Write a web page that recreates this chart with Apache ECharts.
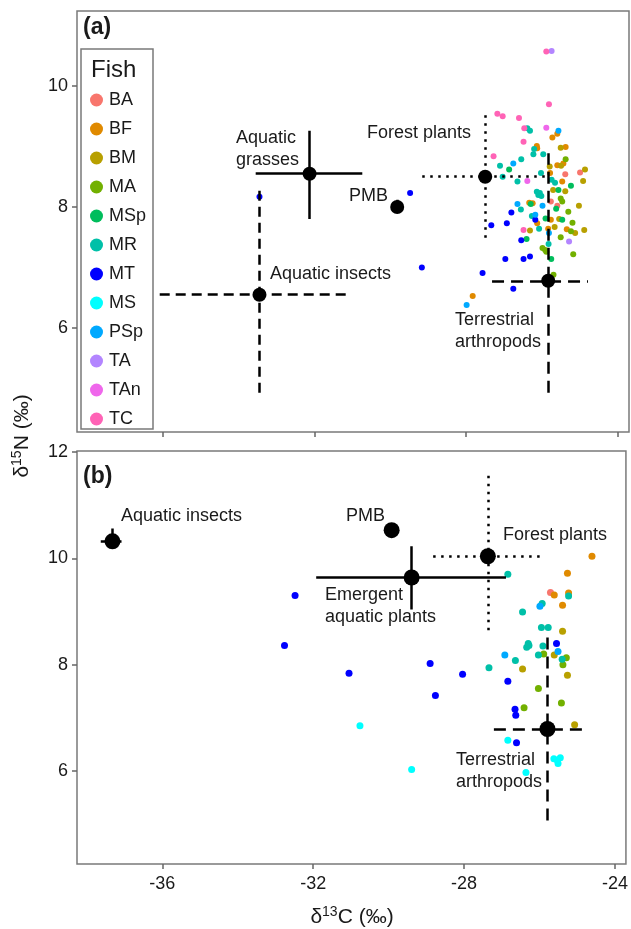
<!DOCTYPE html>
<html>
<head>
<meta charset="utf-8">
<title>d13C d15N biplot</title>
<script src="https://cdn.jsdelivr.net/npm/echarts@6.0.0/dist/echarts.min.js"></script>
<style>
    html, body { margin: 0; padding: 0; background: #fff; }
    #main { width: 631px; height: 929px; }
</style>
</head>
<body>
<div id="main"></div>
<script>
var fishGroups = ['BA', 'BF', 'BM', 'MA', 'MSp', 'MR', 'MT', 'MS', 'PSp', 'TA', 'TAn', 'TC'];
var fishColors = ['#F8766D', '#E08A00', '#B8A000', '#72B000', '#00BD5C', '#00C0A8', '#0000FF', '#00FFFF', '#00A9FF', '#B385FF', '#EF67EB', '#FF63B6'];

var xTicks = [-36, -32, -28, -24];
var yTicksA = [6, 8, 10];
var yTicksB = [6, 8, 10, 12];

// panel (a) fish: [d13C, d15N, group]
var pointsA = [
    [-25.39, 8.54, 'BA'], [-25.00, 8.57, 'BA'], [-25.77, 8.09, 'BA'], [-25.60, 8.02, 'BA'],
    [-25.60, 9.21, 'BF'], [-25.73, 9.15, 'BF'], [-26.14, 9.01, 'BF'], [-26.13, 8.97, 'BF'], [-25.38, 8.99, 'BF'],
    [-25.60, 8.69, 'BF'], [-25.44, 8.72, 'BF'], [-25.79, 8.56, 'BF'], [-25.47, 8.42, 'BF'], [-26.34, 8.07, 'BF'],
    [-26.25, 8.06, 'BF'], [-26.13, 7.73, 'BF'], [-25.84, 7.64, 'BF'], [-25.77, 7.79, 'BF'], [-25.35, 7.63, 'BF'],
    [-27.83, 6.53, 'BF'],
    [-25.51, 8.98, 'BM'], [-25.80, 8.67, 'BM'], [-25.50, 8.68, 'BM'], [-24.87, 8.62, 'BM'], [-24.92, 8.43, 'BM'],
    [-25.71, 8.28, 'BM'], [-25.39, 8.26, 'BM'], [-25.03, 8.02, 'BM'], [-25.67, 7.67, 'BM'], [-26.32, 7.61, 'BM'],
    [-24.89, 7.62, 'BM'], [-25.13, 7.57, 'BM'], [-25.55, 7.80, 'BM'],
    [-25.38, 8.79, 'MA'], [-25.51, 8.14, 'MA'], [-25.47, 8.09, 'MA'], [-25.31, 7.92, 'MA'], [-25.20, 7.74, 'MA'],
    [-25.24, 7.60, 'MA'], [-25.51, 7.50, 'MA'], [-25.18, 7.22, 'MA'], [-25.99, 7.32, 'MA'], [-25.92, 7.29, 'MA'],
    [-25.89, 7.26, 'MA'], [-25.70, 6.88, 'MA'],
    [-26.87, 8.62, 'MSp'], [-25.57, 8.28, 'MSp'], [-25.24, 8.35, 'MSp'], [-25.47, 7.79, 'MSp'], [-25.91, 7.81, 'MSp'],
    [-26.41, 7.47, 'MSp'], [-25.76, 7.14, 'MSp'], [-26.30, 8.05, 'MSp'], [-25.63, 7.97, 'MSp'],
    [-26.39, 9.30, 'MR'], [-26.32, 9.26, 'MR'], [-26.21, 8.96, 'MR'], [-26.23, 8.87, 'MR'], [-25.97, 8.87, 'MR'],
    [-26.55, 8.79, 'MR'], [-27.11, 8.68, 'MR'], [-27.04, 8.50, 'MR'], [-26.03, 8.56, 'MR'], [-26.65, 8.42, 'MR'],
    [-25.75, 8.45, 'MR'], [-25.66, 8.40, 'MR'], [-26.14, 8.25, 'MR'], [-26.06, 8.23, 'MR'], [-26.02, 8.18, 'MR'],
    [-26.10, 8.20, 'MR'], [-26.56, 7.96, 'MR'], [-26.27, 7.85, 'MR'], [-26.08, 7.64, 'MR'], [-25.83, 7.39, 'MR'],
    [-26.81, 7.91, 'MT'], [-27.34, 7.70, 'MT'], [-26.93, 7.73, 'MT'], [-26.18, 7.79, 'MT'], [-26.55, 7.45, 'MT'],
    [-26.97, 7.14, 'MT'], [-26.49, 7.14, 'MT'], [-26.32, 7.18, 'MT'], [-27.57, 6.91, 'MT'], [-26.76, 6.65, 'MT'],
    [-29.48, 8.23, 'MT'], [-29.17, 7.00, 'MT'], [-33.45, 8.17, 'MT'],
    [-25.57, 9.26, 'PSp'], [-26.76, 8.72, 'PSp'], [-26.65, 8.05, 'PSp'], [-25.99, 8.02, 'PSp'], [-26.18, 7.87, 'PSp'],
    [-25.82, 7.57, 'PSp'], [-27.99, 6.38, 'PSp'],
    [-25.75, 10.58, 'TA'], [-25.29, 7.43, 'TA'],
    [-25.89, 9.31, 'TAn'], [-26.39, 8.43, 'TAn'],
    [-25.89, 10.57, 'TC'], [-25.82, 9.70, 'TC'], [-27.18, 9.54, 'TC'], [-27.04, 9.50, 'TC'], [-26.61, 9.47, 'TC'],
    [-26.47, 9.30, 'TC'], [-26.49, 9.08, 'TC'], [-27.28, 8.84, 'TC'], [-26.49, 7.62, 'TC']
];

// panel (b) fish
var pointsB = [
    [-25.71, 9.36, 'BA'],
    [-24.61, 10.04, 'BF'], [-25.26, 9.72, 'BF'], [-25.61, 9.31, 'BF'], [-25.23, 9.35, 'BF'], [-25.39, 9.12, 'BF'],
    [-25.39, 8.63, 'BM'], [-25.61, 8.18, 'BM'], [-26.45, 7.92, 'BM'], [-25.26, 7.80, 'BM'], [-25.07, 6.87, 'BM'],
    [-25.89, 8.20, 'MA'], [-25.29, 8.13, 'MA'], [-25.38, 8.00, 'MA'], [-26.03, 7.55, 'MA'], [-25.42, 7.28, 'MA'],
    [-26.41, 7.19, 'MA'],
    [-26.84, 9.70, 'MR'], [-25.23, 9.29, 'MR'], [-25.93, 9.15, 'MR'], [-26.45, 8.99, 'MR'], [-25.95, 8.70, 'MR'],
    [-25.77, 8.70, 'MR'], [-26.30, 8.40, 'MR'], [-26.34, 8.33, 'MR'], [-26.28, 8.36, 'MR'], [-25.91, 8.35, 'MR'],
    [-26.03, 8.18, 'MR'], [-25.40, 8.10, 'MR'], [-26.64, 8.08, 'MR'], [-27.34, 7.94, 'MR'],
    [-25.55, 8.40, 'MT'], [-28.90, 8.02, 'MT'], [-31.05, 7.84, 'MT'], [-28.04, 7.82, 'MT'], [-26.84, 7.69, 'MT'],
    [-28.76, 7.42, 'MT'], [-26.65, 7.16, 'MT'], [-26.63, 7.05, 'MT'], [-26.61, 6.53, 'MT'], [-32.48, 9.30, 'MT'],
    [-32.76, 8.36, 'MT'],
    [-30.76, 6.85, 'MS'], [-26.84, 6.58, 'MS'], [-25.62, 6.23, 'MS'], [-25.53, 6.20, 'MS'], [-25.45, 6.25, 'MS'],
    [-25.51, 6.14, 'MS'], [-26.36, 5.97, 'MS'], [-29.39, 6.03, 'MS'],
    [-25.99, 9.10, 'PSp'], [-25.51, 8.25, 'PSp'], [-26.92, 8.18, 'PSp']
];

// sources: [name, meanX, meanY, xLow, xHigh, yLow, yHigh]
var sourcesA = [
    ['Aquatic grasses', -32.13, 8.55, -33.55, -30.74, 7.80, 9.26],
    ['Aquatic insects', -33.45, 6.55, -36.08, -31.10, 4.93, 8.31],
    ['PMB', -29.82, 8.00, -29.82, -29.82, 7.93, 8.12],
    ['Forest plants', -27.50, 8.50, -29.16, -25.84, 7.49, 9.55],
    ['Terrestrial arthropods', -25.84, 6.78, -27.32, -24.79, 4.93, 8.89]
];
var sourcesB = [
    ['Aquatic insects', -37.32, 10.32, -37.63, -37.08, 10.19, 10.56],
    ['PMB', -29.92, 10.53, -29.92, -29.92, 10.53, 10.53],
    ['Emergent aquatic plants', -29.39, 9.64, -31.92, -26.89, 9.04, 10.23],
    ['Forest plants', -27.37, 10.04, -28.82, -25.95, 8.65, 11.60],
    ['Terrestrial arthropods', -25.79, 6.79, -27.21, -24.87, 5.07, 8.59]
];

var lineTypes = {
    'Aquatic grasses': 'solid',
    'Aquatic insects': [10, 6],
    'PMB': 'solid',
    'Forest plants': [2.5, 5.5],
    'Emergent aquatic plants': 'solid',
    'Terrestrial arthropods': [12, 7]
};
var lineTypesB = { 'Aquatic insects': 'solid' };

var FONT = '"Liberation Sans", Arial, sans-serif';

/*==========================================
 * build the fish scatter series of one panel
 */
function fishSeries(points, gi, size) {
    var out = [];
    for (var i = 0; i < fishGroups.length; i++) {
        var g = fishGroups[i];
        var d = [];
        for (var j = 0; j < points.length; j++) {
            if (points[j][2] == g) d.push([points[j][0], points[j][1]]);
        }
        out.push({
            name: g,
            type: 'scatter',
            xAxisIndex: gi,
            yAxisIndex: gi,
            data: d,
            symbolSize: size,
            itemStyle: { color: fishColors[i], opacity: 1 },
            z: 2,
            silent: true
        });
    }
    return out;
}

/*==========================================
 * error bars + means of food sources
 */
function sourceSeries(sources, gi, size, overrides) {
    var bars = [];
    var means = [];
    for (var i = 0; i < sources.length; i++) {
        var s = sources[i];
        var t = overrides[s[0]] || lineTypes[s[0]];
        if (s[3] != s[4]) bars.push({ coords: [[s[3], s[2]], [s[4], s[2]]], lineStyle: { type: t } });
        if (s[5] != s[6]) bars.push({ coords: [[s[1], s[5]], [s[1], s[6]]], lineStyle: { type: t } });
        means.push([s[1], s[2]]);
    }
    return [{
        type: 'lines',
        coordinateSystem: 'cartesian2d',
        xAxisIndex: gi,
        yAxisIndex: gi,
        data: bars,
        lineStyle: { color: '#000', width: 2.5, opacity: 1 },
        silent: true,
        z: 3
    }, {
        type: 'scatter',
        xAxisIndex: gi,
        yAxisIndex: gi,
        data: means,
        symbolSize: size,
        itemStyle: { color: '#000', opacity: 1 },
        silent: true,
        z: 4
    }];
}

function xAxisCfg(gi, showLabel) {
    return {
        gridIndex: gi, type: 'value', min: -38.26, max: -23.71,
        axisLine: { show: false }, splitLine: { show: false },
        axisTick: { show: true, customValues: xTicks, length: 5, lineStyle: { color: '#666', width: 1.5 } },
        axisLabel: { show: showLabel, customValues: xTicks, fontSize: 18, color: '#1a1a1a', fontFamily: FONT, margin: 11 }
    };
}
function yAxisCfg(gi, min, max, ticks) {
    return {
        gridIndex: gi, type: 'value', min: min, max: max,
        axisLine: { show: false }, splitLine: { show: false },
        axisTick: { show: true, customValues: ticks, length: 5, lineStyle: { color: '#666', width: 1.5 } },
        axisLabel: { customValues: ticks, fontSize: 18, color: '#1a1a1a', fontFamily: FONT, margin: 9 }
    };
}

function txt(x, y, s, size, bold, align) {
    return {
        type: 'text', x: x, y: y, z: 10, silent: true,
        style: {
            text: s, fill: '#1a1a1a', font: (bold ? 'bold ' : '') + size + 'px ' + FONT,
            align: align || 'left', verticalAlign: 'middle'
        }
    };
}

var labelsA = [
    txt(236, 138, 'Aquatic', 18), txt(236, 160, 'grasses', 18),
    txt(367, 133, 'Forest plants', 18),
    txt(349, 196, 'PMB', 18),
    txt(270, 274, 'Aquatic insects', 18),
    txt(455, 320, 'Terrestrial', 18), txt(455, 342, 'arthropods', 18)
];
var labelsB = [
    txt(121, 516, 'Aquatic insects', 18),
    txt(346, 516, 'PMB', 18),
    txt(503, 535, 'Forest plants', 18),
    txt(325, 595, 'Emergent', 18), txt(325, 617, 'aquatic plants', 18),
    txt(456, 760, 'Terrestrial', 18), txt(456, 782, 'arthropods', 18)
];

function $extend(a, b) {
    for (var k in b) a[k] = b[k];
    return a;
}

var myChart = echarts.init(document.getElementById('main'), null, { renderer: 'canvas' });

var series = []
    .concat(fishSeries(pointsA, 0, 6))
    .concat(fishSeries(pointsB, 1, 7))
    .concat(sourceSeries(sourcesA, 0, 14, {}))
    .concat(sourceSeries(sourcesB, 1, 16, lineTypesB));

var gridStyle = { show: true, borderColor: '#7a7a7a', borderWidth: 1.5, backgroundColor: 'transparent' };

var option = {
    animation: false,
    backgroundColor: '#fff',
    grid: [
        $extend({ left: 77, top: 11, width: 552, height: 421 }, gridStyle),
        $extend({ left: 77, top: 451, width: 552, height: 413 }, gridStyle)
    ],
    xAxis: [xAxisCfg(0, false), xAxisCfg(1, true)],
    yAxis: [yAxisCfg(0, 4.28, 11.24, yTicksA), yAxisCfg(1, 4.25, 12.02, yTicksB)],
    legend: {
        data: fishGroups,
        orient: 'vertical',
        left: 85,
        top: 86,
        icon: 'circle',
        itemWidth: 13,
        itemHeight: 13,
        itemGap: 11,
        textStyle: { fontSize: 18, color: '#1a1a1a', fontFamily: FONT, padding: [0, 0, 0, 1] },
        selectedMode: false,
        z: 10
    },
    graphic: [
        { type: 'rect', shape: { x: 81, y: 49, width: 72, height: 380 }, style: { fill: '#fff', stroke: '#7a7a7a', lineWidth: 1.5 }, z: 5, silent: true },
        txt(91, 70, 'Fish', 24),
        txt(83, 28, '(a)', 23, true),
        txt(83, 477, '(b)', 23, true),
        {
            type: 'text', x: 352, y: 917, z: 10, silent: true,
            style: {
                text: '{n|δ}{s|13}{n|C (‰)}', align: 'center', verticalAlign: 'middle', fill: '#1a1a1a',
                rich: {
                    n: { fontSize: 21, fontFamily: FONT, fill: '#1a1a1a', lineHeight: 24 },
                    s: { fontSize: 14, fontFamily: FONT, fill: '#1a1a1a', verticalAlign: 'top', lineHeight: 24 }
                }
            }
        },
        {
            type: 'text', x: 22, y: 436, rotation: Math.PI / 2, z: 10, silent: true,
            style: {
                text: '{n|δ}{s|15}{n|N (‰)}', align: 'center', verticalAlign: 'middle', fill: '#1a1a1a',
                rich: {
                    n: { fontSize: 21, fontFamily: FONT, fill: '#1a1a1a', lineHeight: 24 },
                    s: { fontSize: 14, fontFamily: FONT, fill: '#1a1a1a', verticalAlign: 'top', lineHeight: 24 }
                }
            }
        }
    ].concat(labelsA).concat(labelsB),
    series: series
};

myChart.setOption(option);
</script>
</body>
</html>
